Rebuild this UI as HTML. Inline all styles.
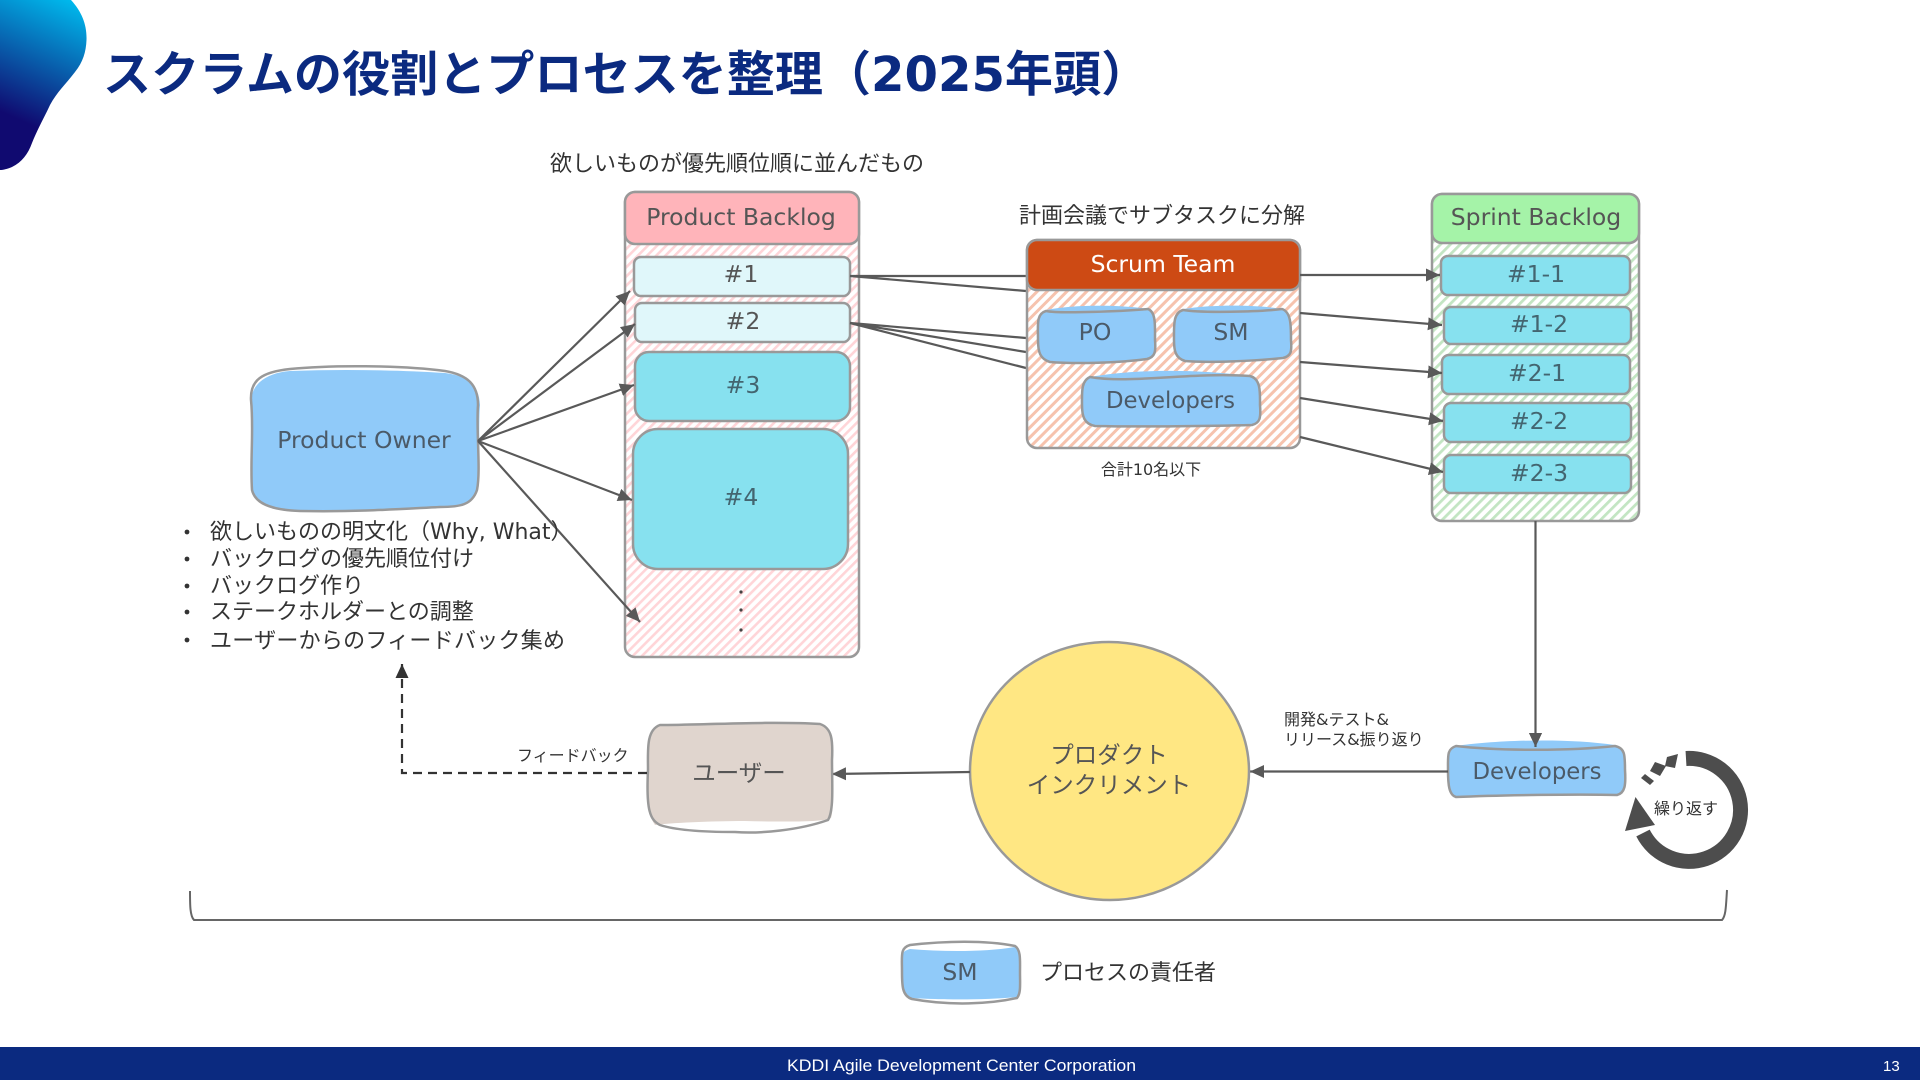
<!DOCTYPE html>
<html lang="ja"><head><meta charset="utf-8"><title>スクラムの役割とプロセスを整理</title>
<style>
html,body{margin:0;padding:0;background:#fff;width:1920px;height:1080px;overflow:hidden}
svg{display:block}
text{font-family:"DejaVu Sans","Noto Sans CJK JP",sans-serif;fill:#555}
.c{text-anchor:middle}
.n{font-size:23.5px}
.t{fill:#4b5a68}
.q{fill:#436570}
.l{font-size:22px;fill:#333}
.s{font-size:16px;fill:#333}
.b{stroke:#999;stroke-width:2.5}
.o{fill:none}
.a{fill:none;stroke:#595959;stroke-width:2.2}
</style></head><body>
<svg width="1920" height="1080" viewBox="0 0 1920 1080" xmlns="http://www.w3.org/2000/svg">
<defs>
<linearGradient id="g" gradientUnits="userSpaceOnUse" x1="68" y1="0" x2="15" y2="118">
<stop offset="0" stop-color="#00b8ec"/><stop offset="1" stop-color="#100a70"/></linearGradient>
<pattern id="hp" width="6.5" height="6.5" patternUnits="userSpaceOnUse" patternTransform="rotate(45)"><rect width="6.5" height="6.5" fill="#fff"/><rect width="2.6" height="6.5" fill="#ffd5d8"/></pattern>
<pattern id="ho" width="7" height="7" patternUnits="userSpaceOnUse" patternTransform="rotate(45)"><rect width="7" height="7" fill="#fff"/><rect width="3" height="7" fill="#f6c3ae"/></pattern>
<pattern id="hg" width="7" height="7" patternUnits="userSpaceOnUse" patternTransform="rotate(45)"><rect width="7" height="7" fill="#fff"/><rect width="2.8" height="7" fill="#c3e5c3"/></pattern>
<marker id="m" markerUnits="userSpaceOnUse" markerWidth="16" markerHeight="15" refX="14" refY="6.5" orient="auto"><path d="M0,0L14,6.5L0,13Z" fill="#595959"/></marker>
<marker id="k" markerUnits="userSpaceOnUse" markerWidth="16" markerHeight="15" refX="14" refY="6.5" orient="auto"><path d="M0,0L14,6.5L0,13Z" fill="#333"/></marker>
</defs>
<rect width="1920" height="1080" fill="#fff"/>

<!-- header -->
<path d="M0,0H71C82,12 87,25 86.5,40C86,52 83,62 75,72C65,85 57,92 50,105C44,118 38,128 32,143C28,154 22,162 12,167C7,169 3,170 0,170Z" fill="url(#g)"/>
<text x="103" y="91" font-size="48.1" font-weight="700" style="fill:#0b2a80">スクラムの役割とプロセスを整理（2025年頭）</text>

<!-- Product Backlog -->
<text class="l" x="550" y="171">欲しいものが優先順位順に並んだもの</text>
<rect x="625" y="192" width="234" height="465" rx="10" fill="url(#hp)" class="b"/>
<rect x="625" y="192" width="234" height="52" rx="10" fill="#ffb4ba" class="b"/>
<text class="n c" x="741" y="225">Product Backlog</text>
<rect x="634" y="257" width="216" height="39" rx="7" fill="#e0f7fa" class="b"/>
<text class="n c" x="741" y="282">#1</text>
<rect x="635" y="303" width="215" height="39" rx="7" fill="#e0f7fa" class="b"/>
<text class="n c" x="743" y="329">#2</text>
<rect x="635" y="352" width="215" height="69" rx="14" fill="#87e1ef" class="b"/>
<text class="n c q" x="743" y="393">#3</text>
<rect x="633" y="429" width="215" height="140" rx="25" fill="#87e1ef" class="b"/>
<text class="n c q" x="741" y="505">#4</text>
<circle cx="741" cy="592" r="1.6" fill="#444"/><circle cx="741" cy="610" r="1.6" fill="#444"/><circle cx="741" cy="630" r="1.6" fill="#444"/>

<!-- Product Owner -->
<path d="M251,400C252,385 265,373 290,371C340,369 400,370 445,373C468,376 479,385 480,405C478,430 481,470 477,490C472,505 460,507 440,507C400,509 360,512 300,511C270,510 255,503 252,490C250,460 254,430 251,400Z" fill="#90caf9"/>
<path d="M251,400C250,380 262,372 290,369C330,365 400,365 445,371C468,375 478,385 478,405C476,430 481,470 477,490C472,505 460,507 440,507C400,509 360,512 300,511C270,510 255,503 252,490C250,460 254,430 251,400Z" class="b o"/>
<text class="n c t" x="364" y="448">Product Owner</text>
<path class="a" marker-end="url(#m)" d="M478,441L630,291"/>
<path class="a" marker-end="url(#m)" d="M478,441L635,324"/>
<path class="a" marker-end="url(#m)" d="M478,441L634,385"/>
<path class="a" marker-end="url(#m)" d="M478,441L632,500"/>
<path class="a" marker-end="url(#m)" d="M478,441L640,622"/>

<!-- bullets -->
<g fill="#333"><circle cx="187" cy="532" r="2.4"/><circle cx="187" cy="559" r="2.4"/><circle cx="187" cy="586" r="2.4"/><circle cx="187" cy="612" r="2.4"/><circle cx="187" cy="640" r="2.4"/></g>
<text class="l" x="210" y="539">欲しいものの明文化（Why, What）</text>
<text class="l" x="210" y="566">バックログの優先順位付け</text>
<text class="l" x="210" y="593">バックログ作り</text>
<text class="l" x="210" y="619">ステークホルダーとの調整</text>
<text class="l" x="210" y="648" textLength="355">ユーザーからのフィードバック集め</text>

<!-- PB to Scrum -->
<path class="a" d="M850,276H1026M850,276L1026,291M850,323L1026,338M850,323L1026,352M850,323L1026,368"/>

<!-- Scrum Team -->
<text class="l" x="1019" y="223">計画会議でサブタスクに分解</text>
<rect x="1027" y="240" width="273" height="208" rx="10" fill="url(#ho)" class="b"/>
<rect x="1027" y="240" width="273" height="50" rx="10" fill="#cd4a14" stroke="#999" stroke-width="2.5"/>
<text class="n c" x="1163" y="272" style="fill:#fff">Scrum Team</text>
<path d="M1046,310C1075,304 1125,305 1148,309C1156,312 1155,325 1155,340C1156,352 1155,357 1147,359C1120,363 1075,364 1050,362C1040,359 1038,352 1038,340C1038,325 1036,314 1046,310Z" fill="#90caf9"/>
<path d="M1046,311C1060,314 1125,311 1148,309C1156,312 1155,325 1155,340C1156,352 1155,357 1147,359C1120,363 1075,364 1050,362C1040,359 1038,352 1038,340C1038,325 1036,314 1046,311Z" class="b o"/>
<text class="n c t" x="1095" y="340">PO</text>
<path d="M1183,309C1215,304 1260,305 1282,309C1291,312 1291,325 1291,340C1292,352 1291,356 1283,358C1255,361 1210,363 1185,361C1175,358 1174,350 1174,340C1174,325 1173,313 1183,309Z" fill="#90caf9"/>
<path d="M1183,310C1200,313 1260,312 1282,309C1291,312 1291,325 1291,340C1292,352 1291,356 1283,358C1255,361 1210,363 1185,361C1175,358 1174,350 1174,340C1174,325 1173,313 1183,310Z" class="b o"/>
<text class="n c t" x="1231" y="340">SM</text>
<path d="M1090,377C1130,370 1190,368 1250,376C1261,379 1260,392 1260,405C1261,418 1260,423 1252,425C1215,426 1140,427 1095,426C1084,424 1082,416 1082,405C1082,392 1081,381 1090,377Z" fill="#90caf9"/>
<path d="M1090,377C1130,384 1190,372 1250,376C1261,379 1260,392 1260,405C1261,418 1260,423 1252,425C1215,426 1140,427 1095,426C1084,424 1082,416 1082,405C1082,392 1081,381 1090,377Z" class="b o"/>
<text class="n c t" x="1170.5" y="408" style="font-size:22.8px">Developers</text>
<text class="s c" x="1151" y="475">合計10名以下</text>

<!-- Sprint Backlog -->
<rect x="1432" y="194" width="207" height="327" rx="10" fill="url(#hg)" class="b"/>
<rect x="1432" y="194" width="207" height="49" rx="10" fill="#a5f3a8" class="b"/>
<text class="n c" x="1536" y="225">Sprint Backlog</text>
<rect x="1441" y="256" width="189" height="39" rx="7" fill="#87e1ef" class="b"/>
<text class="n c q" x="1536" y="282">#1-1</text>
<rect x="1444" y="307" width="187" height="37" rx="7" fill="#87e1ef" class="b"/>
<text class="n c q" x="1539" y="332">#1-2</text>
<rect x="1442" y="355" width="188" height="39" rx="7" fill="#87e1ef" class="b"/>
<text class="n c q" x="1537" y="381">#2-1</text>
<rect x="1444" y="403" width="187" height="39" rx="7" fill="#87e1ef" class="b"/>
<text class="n c q" x="1539" y="429">#2-2</text>
<rect x="1444" y="455" width="187" height="38" rx="7" fill="#87e1ef" class="b"/>
<text class="n c q" x="1539" y="481">#2-3</text>

<!-- Scrum to Sprint -->
<path class="a" marker-end="url(#m)" d="M1300,275H1440"/>
<path class="a" marker-end="url(#m)" d="M1300,313L1442,325"/>
<path class="a" marker-end="url(#m)" d="M1300,362L1442,373"/>
<path class="a" marker-end="url(#m)" d="M1300,398L1443,421"/>
<path class="a" marker-end="url(#m)" d="M1300,437L1443,472"/>

<path class="a" marker-end="url(#m)" d="M1535.5,521L1535.5,747"/>

<!-- Developers -->
<path d="M1456,746C1490,741 1560,737 1615,745C1625,748 1625,755 1625,770C1626,785 1625,793 1617,795C1580,794 1500,795 1456,797C1449,795 1448,785 1448,770C1448,755 1447,749 1456,746Z" fill="#90caf9"/>
<path d="M1456,746C1490,750 1560,752 1615,746C1625,748 1625,755 1625,770C1626,785 1625,793 1617,795C1580,794 1500,795 1456,797C1449,795 1448,785 1448,770C1448,755 1447,749 1456,746Z" class="b o"/>
<path class="a" marker-end="url(#m)" d="M1535.5,735L1535.5,747"/>
<text class="n c t" x="1537" y="779" style="font-size:22.8px">Developers</text>

<path class="a" marker-end="url(#m)" d="M1448,771.5H1250"/>
<text class="s" x="1284" y="725">開発&amp;テスト&amp;</text>
<text class="s" x="1284" y="745">リリース&amp;振り返り</text>

<!-- Increment -->
<ellipse cx="1109" cy="771" rx="139" ry="128" fill="#ffe783"/>
<path d="M1109,642C1185,642 1249,702 1249,771C1249,840 1185,900 1110,900C1033,900 970,840 970,771C970,700 1030,642 1109,642Z" class="b o"/>
<text class="n c" x="1109" y="763">プロダクト</text>
<text class="n c" x="1109" y="793">インクリメント</text>

<path class="a" marker-end="url(#m)" d="M970,772L832,774"/>

<!-- User -->
<path d="M660,725C700,722 770,721 820,724C832,728 833,740 832,760C832,785 834,810 831,818C825,822 790,822 745,821C710,821 670,823 655,825C648,815 647,800 648,770C648,750 646,730 660,725Z" fill="#e0d5ce"/>
<path d="M660,725C700,725 770,721 820,724C832,728 833,740 832,760C832,785 834,810 828,820C800,830 760,834 735,832C705,832 675,830 660,825C650,820 646,810 648,770C648,750 646,730 660,725Z" class="b o"/>
<text class="n c" x="739" y="781">ユーザー</text>

<path d="M647,773H402V664" fill="none" stroke="#333" stroke-width="2.2" stroke-dasharray="9 6" marker-end="url(#k)"/>
<text class="s" x="517" y="761">フィードバック</text>

<!-- Bracket -->
<path d="M190,891C190,905 190,916 194,920H1722C1726,916 1726,905 1727,890" fill="none" stroke="#666" stroke-width="2"/>

<!-- Repeat icon -->
<path d="M1686,758.5A51.5,51.5 0 1 1 1643,833" fill="none" stroke="#4d4d4d" stroke-width="15"/>
<path d="M1635.5,797L1625,831L1655,825Z" fill="#4d4d4d"/>
<path d="M1667,757L1678,754L1675,768L1665,766Z" fill="#4d4d4d"/>
<path d="M1655,762L1666,766L1660,776L1650,771Z" fill="#4d4d4d"/>
<path d="M1645,774L1654,781L1650,785L1641,778Z" fill="#4d4d4d"/>
<text class="s c" x="1686" y="814">繰り返す</text>

<!-- Legend -->
<path d="M910,949C945,952 985,952 1015,947C1021,950 1020,960 1020,972C1020,985 1021,993 1017,997C985,1000 945,1000 912,998C902,996 902,985 902,972C902,955 900,952 910,949Z" fill="#90caf9"/>
<path d="M910,945C945,941 985,940 1015,946C1021,950 1020,960 1020,972C1020,985 1021,993 1017,998C990,1004 950,1006 912,999C902,996 902,985 902,972C902,955 900,948 910,945Z" class="b o"/>
<text class="n c t" x="960" y="980">SM</text>
<text class="l" x="1040" y="980">プロセスの責任者</text>

<!-- footer -->
<rect x="0" y="1047" width="1920" height="33" fill="#0b2a80"/>
<text x="787" y="1071" font-size="17" textLength="349" lengthAdjust="spacingAndGlyphs" style="fill:#fff;font-family:'Liberation Sans',sans-serif">KDDI Agile Development Center Corporation</text>
<text x="1883" y="1071" font-size="15" style="fill:#fff;font-family:'Liberation Sans',sans-serif">13</text>
</svg>
</body></html>
